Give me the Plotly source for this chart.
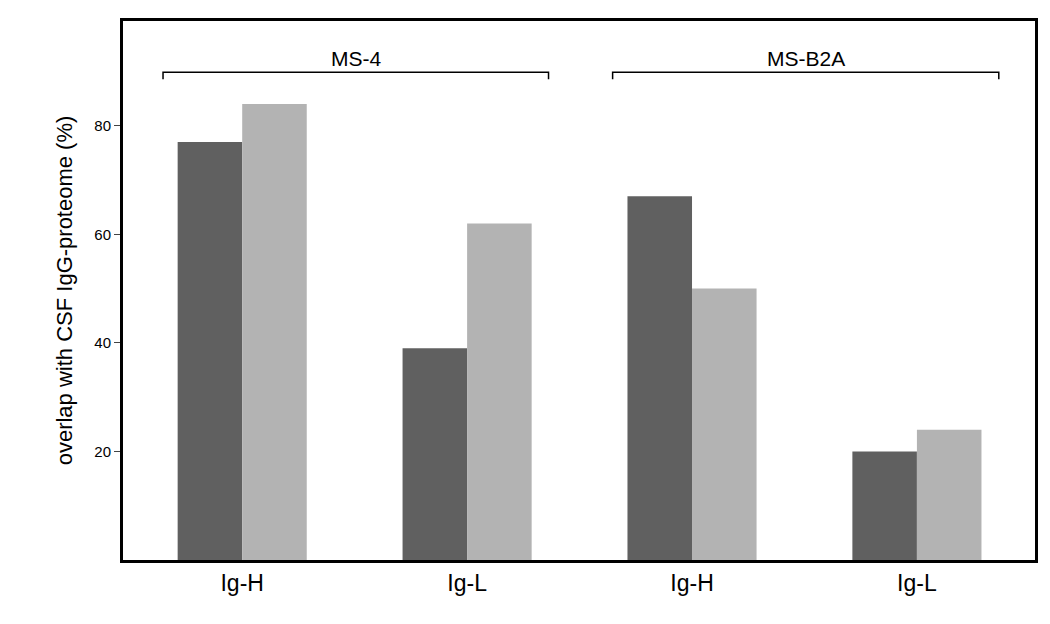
import plotly.graph_objects as go

categories = ["Ig-H", "Ig-L", "Ig-H", "Ig-L"]
series_a = [77, 39, 67, 20]
series_b = [84, 62, 50, 24]
groups = ["MS-4", "MS-B2A"]

xs = [1, 2, 3, 4]
fig = go.Figure()
fig.add_bar(x=xs, y=series_a, marker_color="#606060", marker_line_width=0, showlegend=False)
fig.add_bar(x=xs, y=series_b, marker_color="#b3b3b3", marker_line_width=0, showlegend=False)

# brackets
for (x0, x1), name in zip([(0.648, 2.362), (2.647, 4.364)], groups):
    fig.add_shape(type="path", xref="x", yref="paper",
                  path=f"M {x0},0.892 L {x0},0.905 L {x1},0.905 L {x1},0.892",
                  line=dict(color="black", width=1.5))
    fig.add_annotation(x=(x0 + x1) / 2, y=0.955, xref="x", yref="paper", text=name,
                       showarrow=False, font=dict(size=21, color="black"))

fig.update_layout(
    width=1050, height=624, barmode="group", bargap=0.426, bargroupgap=0,
    margin=dict(l=115, r=23, t=10, b=72),
    plot_bgcolor="white", paper_bgcolor="white",
    font=dict(family="Liberation Sans, Arial", color="black"),
    xaxis=dict(range=[0.47, 4.525], tickvals=xs, ticktext=categories, tickfont=dict(size=23),
               showline=True, mirror=True, linewidth=3, linecolor="black", ticks="", showgrid=False),
    yaxis=dict(range=[0, 99.3], tickvals=[20, 40, 60, 80], tickfont=dict(size=15),
               ticks="outside", ticklen=6, tickwidth=1,
               showline=True, mirror=True, linewidth=3, linecolor="black", showgrid=False, zeroline=False,
               title=dict(text="overlap with CSF IgG-proteome (%)", font=dict(size=22), standoff=16)),
)
fig.write_html("out.html")
